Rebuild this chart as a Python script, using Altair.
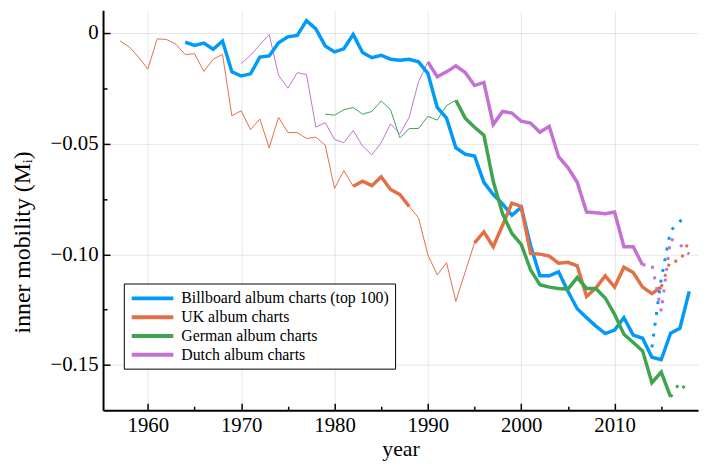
import altair as alt
import pandas as pd

FONT = "Liberation Serif"

SERIES = ["Billboard album charts (top 100)", "UK album charts",
          "German album charts", "Dutch album charts"]
COLORS = ["#009AFA", "#E36F47", "#3EA44E", "#C371D2"]

# ---- Billboard ----
BB_START = 1964
BB = [-0.0042, -0.0057, -0.0046, -0.0074, -0.0037, -0.0176, -0.0195, -0.0185,
      -0.0109, -0.0104, -0.0045, -0.0018, -0.0012, 0.0055, 0.0018, -0.0059,
      -0.0086, -0.0072, -0.0007, -0.0089, -0.0112, -0.0101, -0.0119, -0.0124,
      -0.0119, -0.0131, -0.0183, -0.0337, -0.0385, -0.0519, -0.0548, -0.0556,
      -0.0675, -0.0730, -0.0772, -0.0824, -0.0787, -0.0960, -0.1097, -0.1097,
      -0.1079, -0.1167, -0.1246, -0.1286, -0.1324, -0.1358, -0.1342, -0.1286,
      -0.1365, -0.1379, -0.1465, -0.1476, -0.1356, -0.1334, -0.1167]
BB_THIN = []
BB_THICK = [(1964, 2018)]
BB_DOT_YEARS = [2014, 2015, 2016, 2017.4]
BB_DOT = [-0.1420, -0.1110, -0.0893, -0.0835]

# ---- UK ----
UK_START = 1957
UK = [-0.0036, -0.0063, -0.0109, -0.0164, -0.0027, -0.0030, -0.0051, -0.0098,
      -0.0094, -0.0174, -0.0119, -0.0097, -0.0374, -0.0352, -0.0437, -0.0389,
      -0.0519, -0.0381, -0.0450, -0.0450, -0.0477, -0.0471, -0.0507, -0.0702,
      -0.0622, -0.0693, -0.0670, -0.0690, -0.0650, -0.0707, -0.0730, -0.0784,
      -0.0835, -0.1003, -0.1093, -0.1038, -0.1212, -0.1079, -0.0948, -0.0899,
      -0.0966, -0.0869, -0.0769, -0.0784, -0.0996, -0.0999, -0.1008, -0.1040,
      -0.1036, -0.1052, -0.1190, -0.1152, -0.1097, -0.1148, -0.1058, -0.1082,
      -0.1148, -0.1178, -0.1148]
UK_THIN = [(1957, 1982), (1988, 1995)]
UK_THICK = [(1982, 1988), (1995, 2015)]
UK_DOT_YEARS = [2015, 2016, 2017, 2018]
UK_DOT = [-0.1148, -0.1025, -0.1035, -0.0935]

# ---- German ----
DE_START = 1979
DE = [-0.0367, -0.0372, -0.0347, -0.0337, -0.0367, -0.0355, -0.0307, -0.0347,
      -0.0474, -0.0432, -0.0432, -0.0377, -0.0394, -0.0328, -0.0304, -0.0385,
      -0.0426, -0.0462, -0.0670, -0.0817, -0.0906, -0.0955, -0.1070, -0.1137,
      -0.1148, -0.1154, -0.1157, -0.1105, -0.1154, -0.1154, -0.1197, -0.1271,
      -0.1361, -0.1398, -0.1436, -0.1580, -0.1532, -0.1644]
DE_THIN = [(1979, 1993)]
DE_THICK = [(1993, 2016)]
DE_DOT_YEARS = [2016, 2017, 2018]
DE_DOT = [-0.1644, -0.1578, -0.1632]

# ---- Dutch ----
NL_START = 1970
NL = [-0.0139, -0.0101, -0.0054, -0.0007, -0.0191, -0.0250, -0.0180, -0.0188,
      -0.0426, -0.0405, -0.0481, -0.0496, -0.0441, -0.0511, -0.0551, -0.0496,
      -0.0411, -0.0456, -0.0381, -0.0220, -0.0131, -0.0198, -0.0176, -0.0149,
      -0.0179, -0.0238, -0.0224, -0.0414, -0.0355, -0.0362, -0.0399, -0.0407,
      -0.0449, -0.0422, -0.0559, -0.0608, -0.0675, -0.0809, -0.0812, -0.0817,
      -0.0809, -0.0966, -0.0966, -0.1048]
NL_THIN = [(1970, 1990)]
NL_THICK = [(1990, 2013)]
NL_DOT_YEARS = [2013, 2014, 2015, 2016, 2017, 2018]
NL_DOT = [-0.1048, -0.1045, -0.1257, -0.0930, -0.0955, -0.1000]

X_MAJOR = [1960, 1970, 1980, 1990, 2000, 2010]
X_MINOR = [1965, 1975, 1985, 1995, 2005, 2015]
Y_MAJOR = [0.0, -0.05, -0.10, -0.15]
Y_MINOR = [-0.025, -0.075, -0.125]

SPEC = [
    (SERIES[0], BB_START, BB, BB_THIN, BB_THICK, BB_DOT_YEARS, BB_DOT),
    (SERIES[1], UK_START, UK, UK_THIN, UK_THICK, UK_DOT_YEARS, UK_DOT),
    (SERIES[2], DE_START, DE, DE_THIN, DE_THICK, DE_DOT_YEARS, DE_DOT),
    (SERIES[3], NL_START, NL, NL_THIN, NL_THICK, NL_DOT_YEARS, NL_DOT),
]

rows = {"thin": [], "thick": [], "dot": []}
for name, start, vals, thin, thick, dyears, dvals in SPEC:
    for kind, ranges in (("thin", thin), ("thick", thick)):
        for i, (a, b) in enumerate(ranges):
            for yr in range(a, b + 1):
                rows[kind].append({"year": yr, "value": vals[yr - start],
                                   "series": name, "seg": f"{name}-{kind}-{i}",
                                   "order": yr})
    for k, (yr, v) in enumerate(zip(dyears, dvals)):
        rows["dot"].append({"year": yr, "value": v, "series": name,
                            "seg": f"{name}-dot", "order": k})

df_thin = pd.DataFrame(rows["thin"])
df_thick = pd.DataFrame(rows["thick"])
df_dot = pd.DataFrame(rows["dot"])

W, H = 601, 404
x_scale = alt.Scale(domain=[1955.2, 2018.94], nice=False, zero=False)
y_scale = alt.Scale(domain=[-0.1704, 0.0102], nice=False, zero=False)
color_scale = alt.Scale(domain=SERIES, range=COLORS)

main_x = alt.Axis(orient="bottom", values=X_MAJOR, format="d", title="year",
                  grid=True, gridColor="black", gridOpacity=0.1, gridWidth=1,
                  ticks=False, domain=True, domainColor="black", domainWidth=2,
                  labelFont=FONT, labelFontSize=21, labelColor="black",
                  labelPadding=4, labelFlush=False,
                  titleFont=FONT, titleFontSize=22, titleFontWeight="normal",
                  titleColor="black", titleBaseline="alphabetic", titleY=46)
main_y = alt.Axis(orient="left", values=Y_MAJOR,
                  labelExpr="datum.value == 0 ? '0' : format(datum.value, '.2f')",
                  title="inner mobility (M\u1d62)",
                  grid=True, gridColor="black", gridOpacity=0.1, gridWidth=1,
                  ticks=False, domain=True, domainColor="black", domainWidth=2,
                  labelFont=FONT, labelFontSize=21, labelColor="black",
                  labelPadding=5, labelFlush=False,
                  titleFont=FONT, titleFontSize=24, titleFontWeight="normal",
                  titleColor="black", titleAngle=270, titleAlign="center",
                  titleBaseline="middle", titleX=-81, titleY=234)

major_tick_x = alt.Axis(orient="top", offset=-H, values=X_MAJOR, labels=False,
                        grid=False, domain=False, ticks=True, tickSize=7,
                        tickColor="black", tickWidth=1.5)
major_tick_y = alt.Axis(orient="right", offset=-W, values=Y_MAJOR, labels=False,
                        grid=False, domain=False, ticks=True, tickSize=7,
                        tickColor="black", tickWidth=1.5)
minor_tick_x = alt.Axis(orient="top", offset=-H, values=X_MINOR, labels=False,
                        grid=False, domain=False, ticks=True, tickSize=4,
                        tickColor="black", tickWidth=1.5)
minor_tick_y = alt.Axis(orient="right", offset=-W, values=Y_MINOR, labels=False,
                        grid=False, domain=False, ticks=True, tickSize=4,
                        tickColor="black", tickWidth=1.5)


def make_legend():
    return alt.Legend(orient="none", legendX=21, legendY=276, title=None,
                      fillColor="white", strokeColor="black", padding=6,
                      symbolType="M-3,0L3,0", symbolSize=196,
                      symbolStrokeWidth=4, symbolOffset=14, labelOffset=20,
                      labelFont=FONT, labelFontSize=16, labelColor="black",
                      labelLimit=0, rowPadding=2, cornerRadius=0)


thin = alt.Chart(df_thin).mark_line(strokeWidth=1).encode(
    x=alt.X("year:Q", scale=x_scale, axis=main_x),
    y=alt.Y("value:Q", scale=y_scale, axis=main_y),
    color=alt.Color("series:N", scale=color_scale, legend=make_legend()),
    detail="seg:N", order="order:Q",
)
thick = alt.Chart(df_thick).mark_line(strokeWidth=3.5).encode(
    x=alt.X("year:Q", scale=x_scale, axis=major_tick_x, title=None),
    y=alt.Y("value:Q", scale=y_scale, axis=major_tick_y, title=None),
    color=alt.Color("series:N", scale=color_scale, legend=make_legend()),
    detail="seg:N", order="order:Q",
)
dotted = alt.Chart(df_dot).mark_line(strokeWidth=3, strokeDash=[3, 8]).encode(
    x=alt.X("year:Q", scale=x_scale, axis=minor_tick_x, title=None),
    y=alt.Y("value:Q", scale=y_scale, axis=minor_tick_y, title=None),
    color=alt.Color("series:N", scale=color_scale, legend=make_legend()),
    detail="seg:N", order="order:Q",
)

chart = alt.layer(thin, thick, dotted).resolve_axis(
    x="independent", y="independent"
).properties(
    width=W, height=H,
    padding={"left": 96, "top": 0, "right": 2, "bottom": 50},
    autosize=alt.AutoSizeParams(type="none"),
    background="white",
).configure_view(stroke=None).configure_axis(
    labelFont=FONT, titleFont=FONT
).configure_legend(labelFont=FONT)

chart.save("out.html", embed_options={"renderer": "svg", "actions": False})
